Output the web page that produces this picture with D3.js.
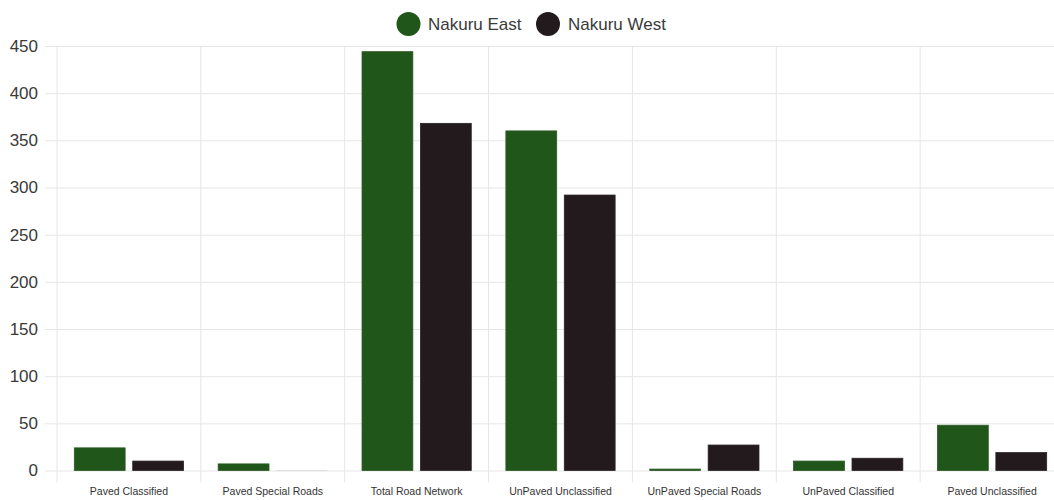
<!DOCTYPE html>
<html>
<head>
<meta charset="utf-8">
<script src="https://cdn.jsdelivr.net/npm/d3@7"></script>
<style>
  html, body { margin: 0; padding: 0; background: #fff; overflow: hidden; }
  svg { display: block; font-family: "Liberation Sans", Arial, Helvetica, sans-serif; }
</style>
</head>
<body>
<svg id="chart" width="1054" height="500"></svg>
<script>
const categories = ["Paved Classified", "Paved Special Roads", "Total Road Network", "UnPaved Unclassified", "UnPaved Special Roads", "UnPaved Classified", "Paved Unclassified"];
const seriesNames = ["Nakuru East", "Nakuru West"];
const nakuruEast = [24, 7, 444, 360, 1.5, 10, 48];
const nakuruWest = [10, 0.5, 368, 292, 27, 13, 19];
const seriesColors = ["#21561a", "#221a1c"];
const yTicks = [0, 50, 100, 150, 200, 250, 300, 350, 400, 450];

const svg = d3.select("#chart");
const plotLeft = 57, plotRight = 1064, plotTop = 46, plotBottom = 470.5;

const x0 = d3.scaleBand().domain(categories).range([plotLeft, plotRight]).paddingInner(0).paddingOuter(0);
const bw = x0.bandwidth();
const x1 = d3.scaleBand().domain(seriesNames).range([0.1 * bw, 0.9 * bw]).paddingInner(0.13).paddingOuter(0.05);
const y = d3.scaleLinear().domain([0, 450]).range([plotBottom, plotTop]);

// horizontal grid + y ticks
const yAxis = d3.axisLeft(y).tickValues(yTicks).tickSize(0).tickPadding(7).tickFormat(d3.format("d"));
const gy = svg.append("g").attr("transform", `translate(${plotLeft - 12},0)`).call(yAxis);
gy.select(".domain").remove();
gy.selectAll(".tick line").attr("stroke", "#e6e6e6").attr("x1", 0).attr("x2", plotRight - plotLeft + 12);
gy.selectAll(".tick text").attr("fill", "#3a3a3a").attr("font-size", "17px");

// vertical grid lines at category boundaries
const bounds = categories.map(c => x0(c));
svg.append("g").selectAll("line").data(bounds).join("line")
  .attr("x1", d => d).attr("x2", d => d)
  .attr("y1", plotTop).attr("y2", plotBottom + 12)
  .attr("stroke", "#e6e6e6").attr("stroke-width", 1);

// x labels
const xAxis = d3.axisBottom(x0).tickSize(0).tickPadding(0);
const gx = svg.append("g").attr("transform", `translate(0,${plotBottom})`).call(xAxis);
gx.select(".domain").remove();
gx.selectAll(".tick text").attr("fill", "#333").attr("font-size", "10.5px").attr("dy", "24px");

// bars
const data = categories.map((c, i) => ({ cat: c, vals: [nakuruEast[i], nakuruWest[i]] }));
const groups = svg.append("g").selectAll("g").data(data).join("g")
  .attr("transform", d => `translate(${x0(d.cat)},0)`);
groups.selectAll("rect").data(d => d.vals.map((v, j) => ({ name: seriesNames[j], v, j })))
  .join("rect")
  .attr("x", d => x1(d.name))
  .attr("width", x1.bandwidth())
  .attr("y", d => y(d.v))
  .attr("height", d => y(0) - y(d.v))
  .attr("fill", d => d.v < 1 ? "#c8c8c8" : seriesColors[d.j])
  .attr("stroke", d => d.v < 1 ? "none" : (d.j === 0 ? "#2b5a24" : "#2a2326"))
  .attr("stroke-width", 0.8);

// legend
const legend = svg.append("g");
const legendItems = [{ name: seriesNames[0], cx: 408.5, tx: 428 }, { name: seriesNames[1], cx: 548, tx: 568 }];
legendItems.forEach((it, i) => {
  legend.append("circle").attr("cx", it.cx).attr("cy", 24).attr("r", 12).attr("fill", seriesColors[i]);
  legend.append("text").attr("x", it.tx).attr("y", 30).attr("font-size", "17px").attr("fill", "#3a3a3a").text(it.name);
});
</script>
</body>
</html>
